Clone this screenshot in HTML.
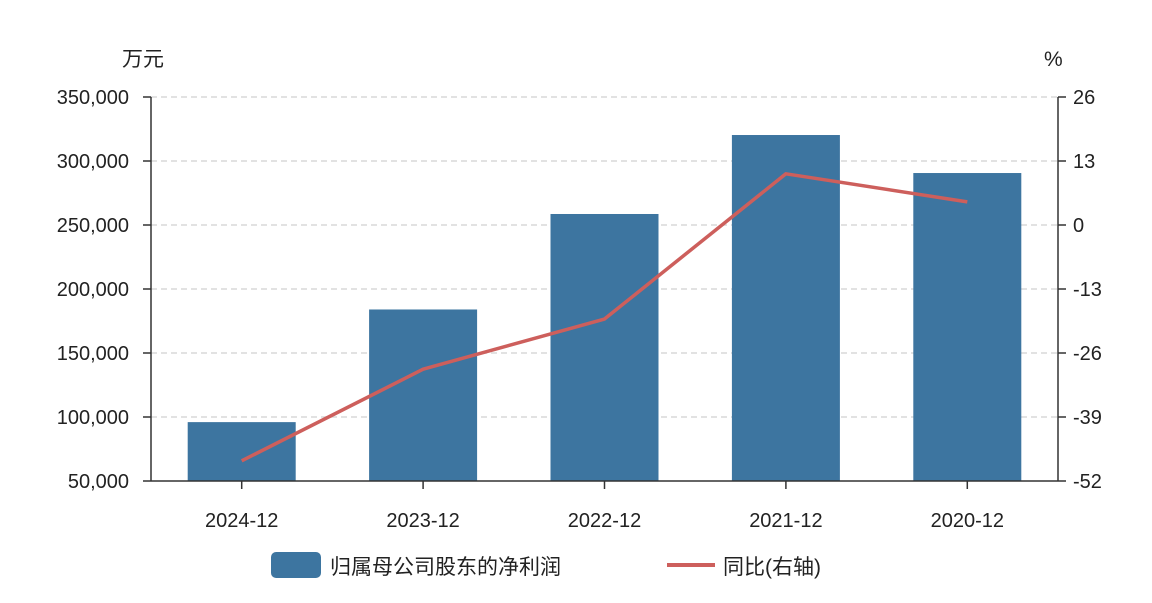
<!DOCTYPE html>
<html><head><meta charset="utf-8">
<style>
html,body{margin:0;padding:0;background:#fff;}
svg text{font-family:"Liberation Sans","Noto Sans CJK SC",sans-serif;fill:#222;}
</style></head>
<body>
<svg id="chart" width="1152" height="598" viewBox="0 0 1152 598" xmlns="http://www.w3.org/2000/svg">
<g id="grid"></g>
<g id="bars"></g>
<g id="axes"></g>
<g id="line"></g>
<text x="122" y="66" font-size="21">万元</text>
<text x="1044" y="66" font-size="21">%</text>
<g>
<rect x="271" y="552" width="50" height="26" rx="5" fill="#3d75a0"/>
<text x="330" y="574" font-size="21">归属母公司股东的净利润</text>
<line x1="667" y1="565" x2="715" y2="565" stroke="#cd5f5c" stroke-width="4"/>
<text x="723" y="574" font-size="21">同比(右轴)</text>
</g>
</svg>
<script>
const categories=["2024-12","2023-12","2022-12","2021-12","2020-12"];
const profitValues=[96000,184000,258600,320300,290600];
const yoyValues=[-47.9,-29.3,-19.1,10.4,4.7];
const leftTicks=[50000,100000,150000,200000,250000,300000,350000];
const rightTicks=[-52,-39,-26,-13,0,13,26];

const NS="http://www.w3.org/2000/svg";
const X0=151,X1=1058,Y0=481,Y1=97;
const lMin=50000,lMax=350000,rMin=-52,rMax=26;
const band=(X1-X0)/categories.length;
const xC=i=>X0+band*(i+0.5);
const yL=v=>Y0-(v-lMin)/(lMax-lMin)*(Y0-Y1);
const yR=v=>Y0-(v-rMin)/(rMax-rMin)*(Y0-Y1);
function mk(tag,attrs,parent){const e=document.createElementNS(NS,tag);for(const k in attrs)e.setAttribute(k,attrs[k]);parent.appendChild(e);return e;}
const grid=document.getElementById('grid'),bars=document.getElementById('bars'),axes=document.getElementById('axes'),line=document.getElementById('line');
const fmt=v=>v.toLocaleString('en-US');

leftTicks.forEach((t,i)=>{
  const y=yL(t);
  if(t!==lMin){const g=mk('line',{x1:X0,x2:X1,y1:y,y2:y,stroke:'#d8d8d8','stroke-width':1.5,'stroke-dasharray':'6,4'},grid);
  
  }
  const tk=mk('line',{x1:X0-8,x2:X0,y1:y,y2:y,stroke:'#333','stroke-width':1.5},axes);
  
  
  const tx=mk('text',{x:129,y:y+7,'text-anchor':'end','font-size':20},axes);
  tx.textContent=fmt(t);
  
  
});
rightTicks.forEach(t=>{
  const y=yR(t);
  const tk=mk('line',{x1:X1,x2:X1+8,y1:y,y2:y,stroke:'#333','stroke-width':1.5},axes);
  
  
  const tx=mk('text',{x:1073,y:y+7,'font-size':20},axes);
  tx.textContent=String(t);
  
  
});
const bw=108;
categories.forEach((c,i)=>{
  const y=yL(profitValues[i]);
  const r=mk('rect',{x:xC(i)-bw/2,y:y,width:bw,height:Y0-y,fill:'#3d75a0'},bars);
  
  
  const tk=mk('line',{x1:xC(i),x2:xC(i),y1:Y0,y2:Y0+8,stroke:'#333','stroke-width':1.5},axes);
  
  
  const tx=mk('text',{x:xC(i),y:527,'text-anchor':'middle','font-size':20},axes);
  tx.textContent=c;
  
  
});
const la=mk('line',{x1:X0,x2:X0,y1:Y1,y2:Y0,stroke:'#333','stroke-width':1.5},axes);


const ra=mk('line',{x1:X1,x2:X1,y1:Y1,y2:Y0,stroke:'#333','stroke-width':1.5},axes);


const xa=mk('line',{x1:X0,x2:X1,y1:Y0,y2:Y0,stroke:'#333','stroke-width':1.5},axes);


const pts=yoyValues.map((v,i)=>xC(i)+','+yR(v)).join(' ');
const pl=mk('polyline',{points:pts,fill:'none',stroke:'#cd5f5c','stroke-width':3.5,'stroke-linejoin':'round'},line);


</script>
</body></html>
